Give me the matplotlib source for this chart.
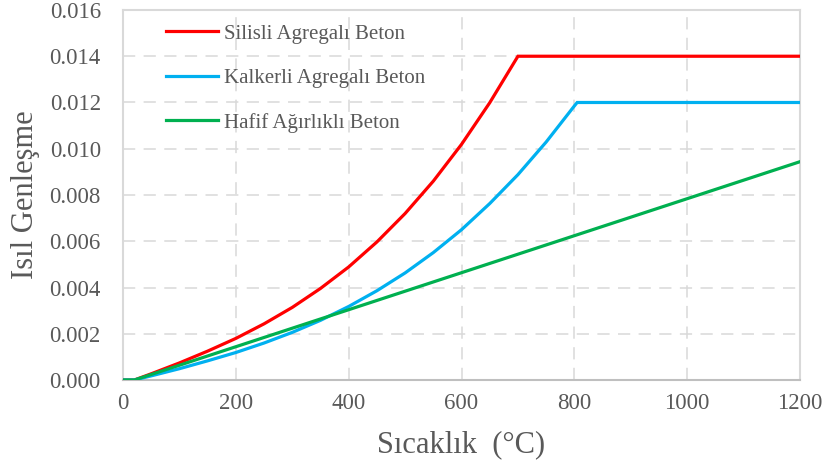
"""
Isıl genleşme - sıcaklık eğrileri (silisli / kalkerli agregalı beton, hafif ağırlıklı beton).
Saves out.png.
"""

import matplotlib.pyplot as plt
from matplotlib.ticker import FormatStrFormatter, MultipleLocator

# Sıcaklık (°C) and strain values per concrete type
T_SILISLI = [0, 20, 50, 100, 150, 200, 250, 300, 350, 400, 450, 500, 550, 600, 650, 700, 1200]
E_SILISLI = [0.0, 0.0, 0.00027, 0.00074, 0.00125, 0.00180, 0.00243, 0.00314, 0.00396,
             0.00489, 0.00597, 0.00720, 0.00860, 0.01019, 0.01199, 0.0140, 0.0140]

T_KALKERLI = [0, 20, 50, 100, 150, 200, 250, 300, 350, 400, 450, 500, 550, 600, 650, 700, 750,
              800, 805, 1200]
E_KALKERLI = [0.0, 0.0, 0.00018, 0.00049, 0.00083, 0.00119, 0.00160, 0.00206, 0.00258,
              0.00318, 0.00386, 0.00463, 0.00551, 0.00650, 0.00763, 0.00888, 0.01029,
              0.01185, 0.0120, 0.0120]

T_HAFIF = [0, 20, 1200]
E_HAFIF = [0.0, 0.0, 0.00944]

LABELS = ["Silisli Agregalı Beton", "Kalkerli Agregalı Beton", "Hafif Ağırlıklı Beton"]
COLORS = ["#ff0000", "#00b0f0", "#00b050"]

plt.rcParams["font.family"] = ["Liberation Serif", "DejaVu Serif"]

fig = plt.figure(figsize=(8.26, 4.73), dpi=100)
ax = fig.add_axes([0.149, 0.1966, 0.8195, 0.7823])

series = [(T_SILISLI, E_SILISLI), (T_KALKERLI, E_KALKERLI), (T_HAFIF, E_HAFIF)]
for (t, e), lab, col in zip(series, LABELS, COLORS):
    ax.plot(t, e, color=col, lw=2.3, label=lab, solid_joinstyle="miter", zorder=3)

ax.set_xlim(0, 1200)
ax.set_ylim(0, 0.016)
ax.xaxis.set_major_locator(MultipleLocator(200))
ax.yaxis.set_major_locator(MultipleLocator(0.002))
ax.yaxis.set_major_formatter(FormatStrFormatter("%.3f"))

ax.grid(True, color="#d9d9d9", lw=1.1, linestyle=(0, (8, 5.5)), zorder=0)
for side in ["top", "right", "left"]:
    ax.spines[side].set_color("#d9d9d9")
    ax.spines[side].set_linewidth(1.5)
ax.spines["bottom"].set_color("#bfbfbf")
ax.spines["bottom"].set_linewidth(1.5)

ax.tick_params(axis="both", length=0, labelsize=16.5, colors="#595959")
ax.tick_params(axis="y", pad=16)
ax.tick_params(axis="x", pad=9)

ax.set_xlabel("Sıcaklık  (°C)", fontsize=22, color="#595959", labelpad=12)
ax.set_ylabel("Isıl Genleşme", fontsize=22, color="#595959", labelpad=7)

ax.legend(loc="upper left", bbox_to_anchor=(0.0635, 0.962), frameon=False,
          fontsize=15, labelcolor="#595959", handlelength=2.5, handletextpad=0.3,
          labelspacing=1.19, borderpad=0, borderaxespad=0)

fig.savefig("out.png", dpi=100, facecolor="white")
